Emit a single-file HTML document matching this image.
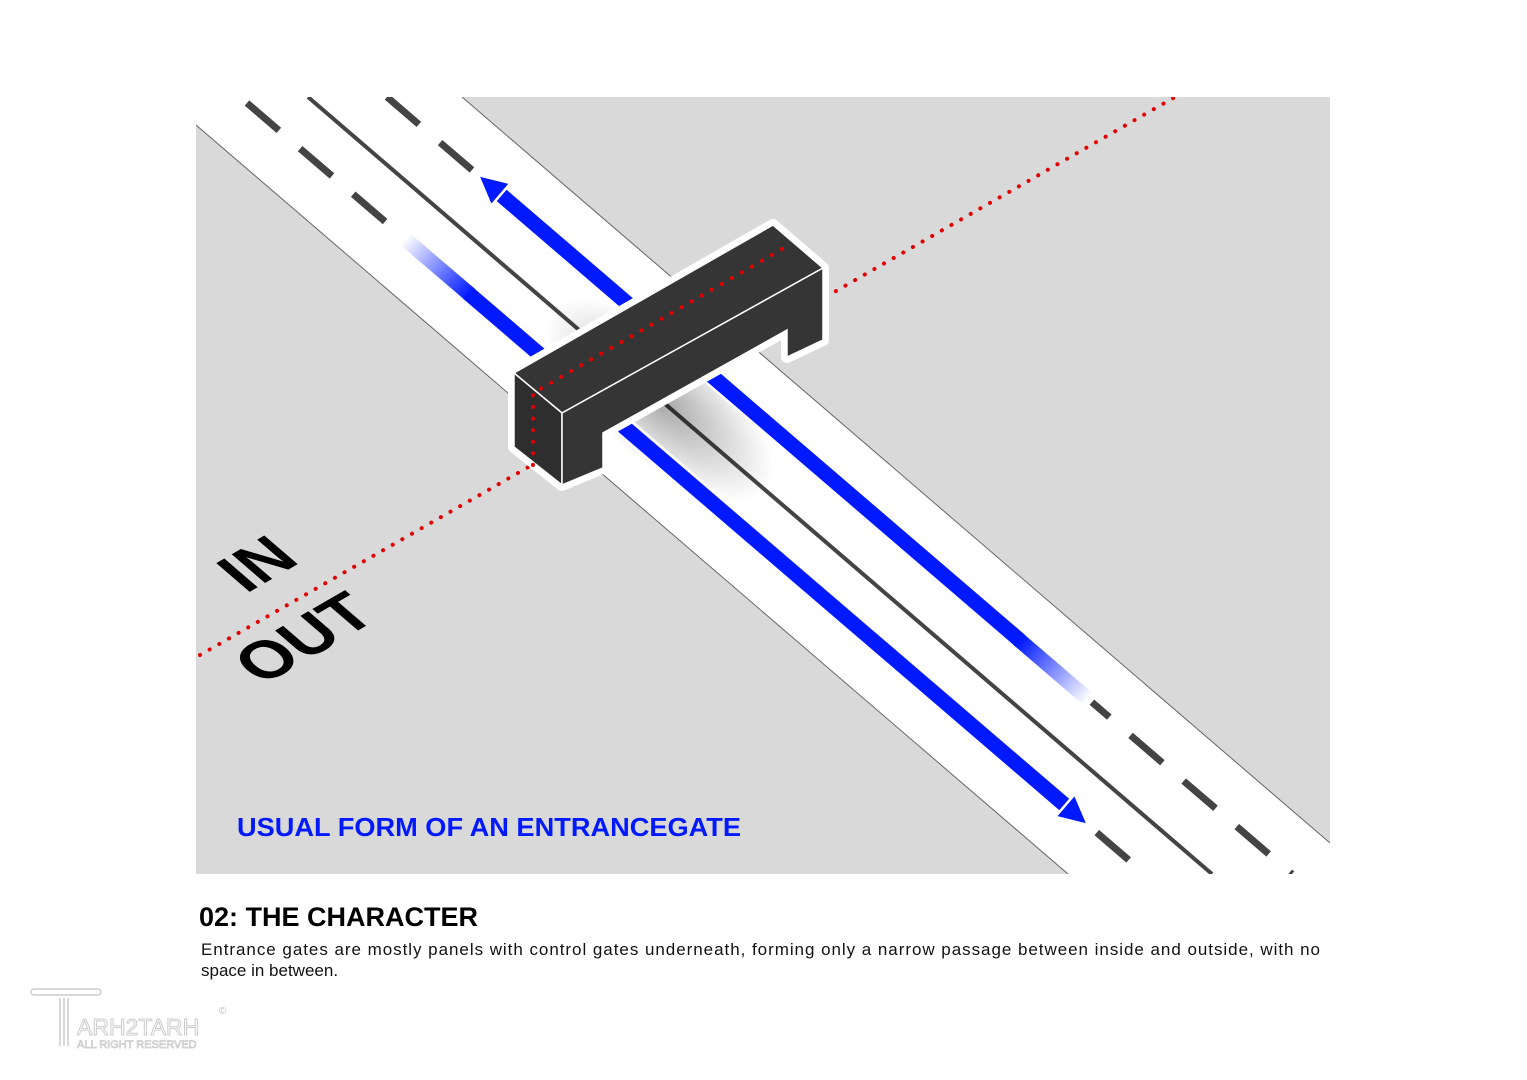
<!DOCTYPE html>
<html><head><meta charset="utf-8"><style>
html,body{margin:0;padding:0;background:#fff;}
body{width:1527px;height:1080px;position:relative;overflow:hidden;font-family:"Liberation Sans",sans-serif;}
</style></head><body>
<svg width="1527" height="1080" style="position:absolute;left:0;top:0">
<defs>
<clipPath id="c"><rect x="196" y="97" width="1134" height="777"/></clipPath>
<linearGradient id="fa" x1="405" y1="239" x2="470" y2="294.5" gradientUnits="userSpaceOnUse"><stop offset="0" stop-color="#0019ff" stop-opacity="0"/><stop offset="1" stop-color="#0019ff"/></linearGradient>
<linearGradient id="fb" x1="1020" y1="640.5" x2="1088" y2="699" gradientUnits="userSpaceOnUse"><stop offset="0" stop-color="#0019ff"/><stop offset="1" stop-color="#0019ff" stop-opacity="0"/></linearGradient>
<radialGradient id="sh" cx="0.5" cy="0.5" r="0.5"><stop offset="0" stop-color="#000" stop-opacity="0.35"/><stop offset="1" stop-color="#000" stop-opacity="0"/></radialGradient>
</defs>
<g clip-path="url(#c)">
<rect x="196" y="97" width="1134" height="777" fill="#d9d9d9"/>
<polygon points="196,125 196,97 462,97 1330,843 1330,874 1068,874" fill="#fff"/>
<line x1="196" y1="125" x2="1068" y2="874" stroke="#666" stroke-width="1"/>
<line x1="462" y1="97" x2="1330" y2="843" stroke="#666" stroke-width="1"/>
<line x1="247" y1="103" x2="1145" y2="874" stroke="#444" stroke-width="7" stroke-dasharray="42,28"/>
<line x1="308" y1="97" x2="1212" y2="874" stroke="#444" stroke-width="4"/>
<line x1="387" y1="97" x2="1292" y2="874" stroke="#444" stroke-width="7" stroke-dasharray="42,28"/>
<ellipse cx="660" cy="400" rx="140" ry="60" fill="url(#sh)" transform="rotate(40 660 400)"/>
<line x1="478" y1="175" x2="1092" y2="702" stroke="#fff" stroke-width="20"/>
<line x1="400" y1="234" x2="1090" y2="827" stroke="#fff" stroke-width="20"/>
<line x1="500" y1="194" x2="1020" y2="640.5" stroke="#0019ff" stroke-width="15"/>
<line x1="1018" y1="639" x2="1088" y2="699" stroke="url(#fb)" stroke-width="15"/>
<polygon points="478,175 510.6,183.1 491,205.9" fill="#0019ff" stroke="#fff" stroke-width="2.5"/>
<line x1="405" y1="239" x2="470" y2="294.5" stroke="url(#fa)" stroke-width="15"/>
<line x1="468" y1="293" x2="1066" y2="806" stroke="#0019ff" stroke-width="15"/>
<polygon points="1088,825 1074.8,794.1 1055.2,816.9" fill="#0019ff" stroke="#fff" stroke-width="2.5"/>
<line x1="200" y1="655" x2="1175" y2="97" stroke="#e10000" stroke-width="4" stroke-dasharray="0.1,11" stroke-linecap="round"/>
</g>
<g stroke="#fff" stroke-width="12" stroke-linejoin="round" fill="#fff">
<polygon points="514,373 773,225 823,268 823,340 787,357 787,330 603,433 603,468 562,485 514,447"/>
</g>
<polygon points="514,373 773,225 823,268 562,413" fill="#353535" stroke="#fff" stroke-width="1.5"/>
<polygon points="514,373 562,413 562,485 514,447" fill="#2e2e2e" stroke="#fff" stroke-width="1.5"/>
<polygon points="562,413 823,268 823,340 787,357 787,330 603,433 603,468 562,485" fill="#353535" stroke="#fff" stroke-width="1.5"/>
<polyline points="533,465 533,393 791,244" fill="none" stroke="#e10000" stroke-width="4" stroke-dasharray="0.1,11.5" stroke-linecap="round"/>
<text transform="matrix(0.866,-0.5,0.758,0.652,246,594)" font-family="Liberation Sans" font-weight="bold" font-size="64" fill="#000">IN</text>
<text transform="matrix(0.866,-0.5,0.758,0.652,262,686)" font-family="Liberation Sans" font-weight="bold" font-size="64" fill="#000">OUT</text>
<text x="237" y="836" font-family="Liberation Sans" font-weight="bold" font-size="26" fill="#0019ff" textLength="504" lengthAdjust="spacingAndGlyphs">USUAL FORM OF AN ENTRANCEGATE</text>
<text x="199" y="926" font-family="Liberation Sans" font-weight="bold" font-size="27" fill="#000">02: THE CHARACTER</text>
<text x="201" y="955" font-family="Liberation Sans" font-size="17" fill="#111" textLength="1119" lengthAdjust="spacing">Entrance gates are mostly panels with control gates underneath, forming only a narrow passage between inside and outside, with no</text>
<text x="201" y="976" font-family="Liberation Sans" font-size="17" fill="#111">space in between.</text>
<g fill="none" stroke="#ccc" stroke-width="1.5">
<rect x="31" y="989" width="70" height="6" rx="3"/>
<line x1="60" y1="998" x2="60" y2="1046"/><line x1="64" y1="998" x2="64" y2="1046"/><line x1="68" y1="998" x2="68" y2="1046"/>
</g>
<text x="77" y="1035" font-family="Liberation Sans" font-size="23" fill="#fff" stroke="#ccc" stroke-width="1">ARH2TARH</text>
<text x="77" y="1048" font-family="Liberation Sans" font-size="11" fill="#fff" stroke="#ccc" stroke-width="0.8">ALL RIGHT RESERVED</text>
<text x="219" y="1014" font-family="Liberation Sans" font-size="10" fill="#bbb">©</text>
</svg>
</body></html>
